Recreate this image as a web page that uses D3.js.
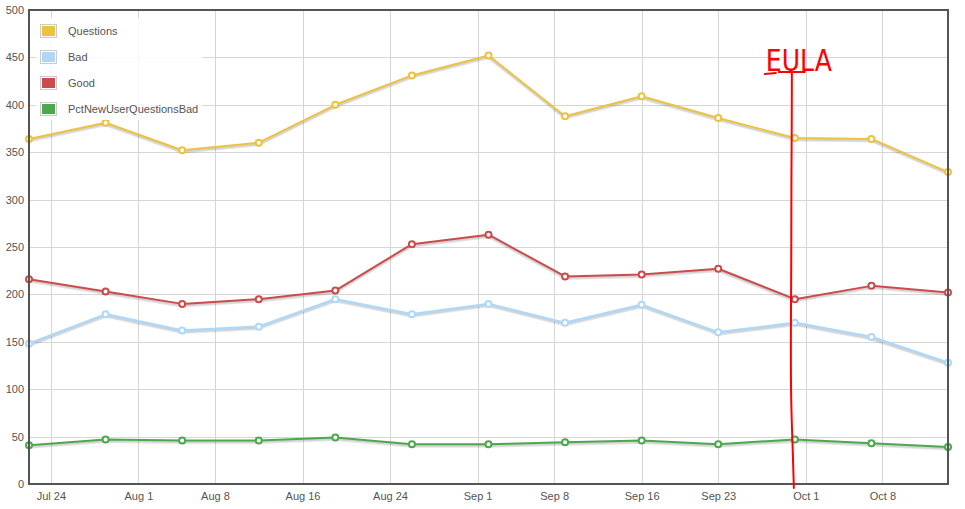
<!DOCTYPE html>
<html><head><meta charset="utf-8">
<script src="https://cdn.jsdelivr.net/npm/d3@7"></script>
<style>
html,body{margin:0;padding:0;background:#fff;}
svg{display:block;}
text{font-family:"Liberation Sans",Arial,sans-serif;}
</style></head>
<body><svg id="c" width="965" height="509"></svg>
<script>
// ---- data ----
const dates = ["2012-07-22","2012-07-29","2012-08-05","2012-08-12","2012-08-19","2012-08-26","2012-09-02","2012-09-09","2012-09-16","2012-09-23","2012-09-30","2012-10-07","2012-10-14"];
const questions = [364,381,352,360,400,431,452,388,409,386,365,364,329];
const bad = [148,179,162,166,195,179,190,170,189,160,170,155,128];
const good = [216,203,190,195,204,253,263,219,221,227,195,209,202];
const pctNewUserQuestionsBad = [41,47,46,46,49,42,42,44,46,42,47,43,39];
const seriesNames = ["Questions","Bad","Good","PctNewUserQuestionsBad"];
const xTickLabels = ["Jul 24","Aug 1","Aug 8","Aug 16","Aug 24","Sep 1","Sep 8","Sep 16","Sep 23","Oct 1","Oct 8"];
const xTickDates = ["2012-07-24","2012-08-01","2012-08-08","2012-08-16","2012-08-24","2012-09-01","2012-09-08","2012-09-16","2012-09-23","2012-10-01","2012-10-08"];
const yTicks = [0,50,100,150,200,250,300,350,400,450,500];
const annotationText = "EULA";
const annotationDate = "2012-09-30";

// ---- setup ----
const parse = d3.utcParse("%Y-%m-%d");
const W = 965, H = 509;
const m = {left:29, right:17, top:10, bottom:25};
const svg = d3.select("#c");
const x = d3.scaleUtc().domain([parse(dates[0]), parse(dates[dates.length-1])]).range([m.left, W - m.right]);
const y = d3.scaleLinear().domain([0,500]).range([H - m.bottom, m.top]);
const colors = ["#edc240","#afd8f8","#cb4b4b","#4da74d"];
const seriesValues = [questions, bad, good, pctNewUserQuestionsBad];
const grid = "#d6d6d6", axisCol = "#545454";

// grid
const xt = xTickDates.map(parse);
svg.append("g").selectAll("line").data(xt).join("line")
  .attr("x1", d=>Math.round(x(d))+0.5).attr("x2", d=>Math.round(x(d))+0.5)
  .attr("y1", m.top).attr("y2", H - m.bottom)
  .attr("stroke", grid).attr("stroke-width",1);
svg.append("g").selectAll("line").data(yTicks.slice(1,-1)).join("line")
  .attr("y1", d=>Math.round(y(d))+0.5).attr("y2", d=>Math.round(y(d))+0.5)
  .attr("x1", m.left).attr("x2", W - m.right)
  .attr("stroke", grid).attr("stroke-width",1);

// axes labels via d3 axes
const xAxis = d3.axisBottom(x).tickValues(xt).tickSize(0).tickPadding(8)
  .tickFormat((d,i)=>xTickLabels[i]);
const gx = svg.append("g").attr("transform",`translate(0,${H - m.bottom})`).call(xAxis);
gx.select(".domain").remove();
gx.selectAll("text").attr("fill","#545454").style("font-size","11px").style("font-family","'Liberation Sans',Arial,sans-serif");

const yAxis = d3.axisLeft(y).tickValues(yTicks).tickSize(0).tickPadding(5);
const gy = svg.append("g").attr("transform",`translate(${m.left},0)`).call(yAxis);
gy.select(".domain").remove();
gy.selectAll("text").attr("fill","#545454").style("font-size","11px").style("font-family","'Liberation Sans',Arial,sans-serif");

// series
const parsedDates = dates.map(parse);
const line = d3.line().x((d,i)=>x(parsedDates[i])).y(d=>y(d));
const plot = svg.append("g");
seriesValues.forEach((vals, si) => {
  const g = plot.append("g");
  g.append("path").attr("d", line(vals)).attr("fill","none")
    .attr("stroke","rgba(0,0,0,0.1)").attr("stroke-width",3).attr("transform","translate(0,2)");
  g.append("path").attr("d", line(vals)).attr("fill","none")
    .attr("stroke","rgba(0,0,0,0.08)").attr("stroke-width",2).attr("transform","translate(0,1.5)");
  g.append("path").attr("d", line(vals)).attr("fill","none")
    .attr("stroke", colors[si]).attr("stroke-width", si===1?2.5:2).attr("stroke-linejoin","round");
  g.selectAll("circle").data(vals).join("circle")
    .attr("cx",(d,i)=>x(parsedDates[i])).attr("cy",d=>y(d)).attr("r",3)
    .attr("fill","#fff").attr("stroke",colors[si]).attr("stroke-width",2);
});

// border
svg.append("rect").attr("x",m.left).attr("y",m.top)
  .attr("width",W-m.left-m.right).attr("height",H-m.top-m.bottom)
  .attr("fill","none").attr("stroke",axisCol).attr("stroke-width",2);

// legend
const lg = svg.append("g");
lg.append("rect").attr("x",36).attr("y",18).attr("width",166).attr("height",102)
  .attr("fill","#fff").attr("opacity",0.85);
seriesNames.forEach((name,i)=>{
  const cy = 31 + i*26;
  lg.append("rect").attr("x",40.5).attr("y",cy-6.5).attr("width",16).attr("height",13)
    .attr("fill","#fff").attr("stroke","#ccc").attr("stroke-width",1);
  lg.append("rect").attr("x",42).attr("y",cy-5).attr("width",13).attr("height",10).attr("fill",colors[i]);
  lg.append("text").attr("x",68).attr("y",cy+4).attr("fill","#545454")
    .style("font-size","11px").text(name);
});

// hand-drawn annotation
const ax = x(parse(annotationDate)) - 2;
const red = "#ff0000";
const ann = svg.append("g").attr("stroke",red).attr("fill","none").attr("stroke-width",2).attr("stroke-linecap","round");
ann.append("path").attr("d", d3.line().curve(d3.curveBasis)([
  [ax-1,73],[ax-1,120],[ax-1.5,175],[ax-1.5,260],[ax-2,330],[ax-2,400],[ax,450],[ax+1,488]
]));
ann.append("path").attr("d",`M${ax-28},74 L${ax-17},73`);
ann.append("path").attr("d",`M${ax-14},72 L${ax+12},72`);
svg.append("text").attr("x",ax-27).attr("y",71).attr("fill",red)
  .attr("textLength",66).attr("lengthAdjust","spacingAndGlyphs")
  .style("font-family","'DejaVu Sans',sans-serif").style("font-size","31px").style("font-weight","normal")
  .text(annotationText);
</script></body></html>
